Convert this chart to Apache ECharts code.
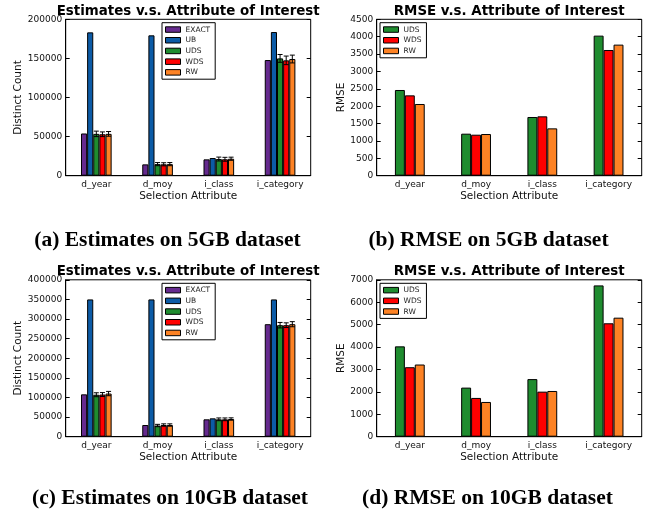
<!DOCTYPE html>
<html><head><meta charset="utf-8">
<script src="https://cdn.jsdelivr.net/npm/echarts@6/dist/echarts.min.js"></script>
<style>html,body{margin:0;padding:0;background:#fff}#c{width:650px;height:512px}</style>
</head><body><div id="c"></div>
<script>
const categories = ['d_year', 'd_moy', 'i_class', 'i_category'];

// (a) Estimates on 5GB
const est5Exact = [54000, 14500, 20900, 147900];
const est5UB    = [183300, 179500, 22600, 183700];
const est5UDS   = [53500, 14800, 21300, 150000];
const est5WDS   = [53000, 14600, 21000, 147500];
const est5RW    = [53500, 14800, 21700, 149200];
const est5UDSErr = [3500, 2000, 2500, 5000];
const est5WDSErr = [3000, 2000, 2500, 5500];
const est5RWErr  = [3000, 2000, 2000, 5000];

// (b) RMSE on 5GB
const rmse5UDS = [2466, 1209, 1689, 4030];
const rmse5WDS = [2312, 1180, 1708, 3617];
const rmse5RW  = [2063, 1199, 1362, 3771];

// (c) Estimates on 10GB
const est10Exact = [108000, 29800, 44300, 286800];
const est10UB    = [350000, 350000, 46800, 350000];
const est10UDS   = [107000, 28500, 44300, 284300];
const est10WDS   = [107500, 29800, 44300, 284300];
const est10RW    = [110000, 29800, 45100, 286800];
const est10UDSErr = [5000, 3000, 3500, 7000];
const est10WDSErr = [5000, 3000, 3500, 6000];
const est10RWErr  = [5500, 3000, 3000, 6500];

// (d) RMSE on 10GB
const rmse10UDS = [4030, 2190, 2570, 6750];
const rmse10WDS = [3100, 1730, 2010, 5060];
const rmse10RW  = [3220, 1550, 2040, 5310];

const estTicks5 = {min: 0, max: 200000, interval: 50000};
const estTicks10 = {min: 0, max: 400000, interval: 50000};
const rmseTicks5 = {min: 0, max: 4500, interval: 500};
const rmseTicks10 = {min: 0, max: 7000, interval: 1000};

const colors = {EXACT: '#652a8e', UB: '#0c5ba6', UDS: '#1f8c2f', WDS: '#ff0000', RW: '#fd8224'};
const FONT = 'DejaVu Sans';

const grids = [
  {left: 65.7, top: 19.3, width: 245, height: 156.4},
  {left: 376.7, top: 19.3, width: 265, height: 156.4},
  {left: 65.7, top: 279.8, width: 245, height: 156.9},
  {left: 376.7, top: 279.8, width: 265, height: 156.9}
];
const yNames = ['Distinct Count', 'RMSE', 'Distinct Count', 'RMSE'];
const yTicks = [estTicks5, rmseTicks5, estTicks10, rmseTicks10];
const yNameGaps = [37.5, 27.5, 37.5, 27.5];

const xAxes = [], yAxes = [], series = [];
grids.forEach((g, p) => {
  xAxes.push({
    type: 'category', gridIndex: p, data: categories, position: 'bottom',
    axisLine: {lineStyle: {color: '#000', width: 1}},
    axisTick: {inside: true, alignWithLabel: true, length: 4, lineStyle: {color: '#000'}},
    axisLabel: {color: '#111', fontFamily: FONT, fontSize: 9, margin: 4},
    name: 'Selection Attribute', nameLocation: 'middle', nameGap: 15,
    nameTextStyle: {color: '#111', fontFamily: FONT, fontSize: 10.5}
  });
  xAxes.push({
    type: 'category', gridIndex: p, data: categories, position: 'top',
    axisLine: {show: false},
    axisTick: {inside: true, alignWithLabel: true, length: 4, lineStyle: {color: '#000'}},
    axisLabel: {show: false}
  });
  yAxes.push(Object.assign({
    type: 'value', gridIndex: p, position: 'left',
    axisLine: {show: true, lineStyle: {color: '#000', width: 1}},
    axisTick: {show: true, inside: true, length: 4, lineStyle: {color: '#000'}},
    axisLabel: {color: '#111', fontFamily: FONT, fontSize: 9, margin: 3.5, formatter: v => String(v)},
    splitLine: {show: false},
    name: yNames[p], nameLocation: 'middle', nameGap: yNameGaps[p],
    nameTextStyle: {color: '#111', fontFamily: FONT, fontSize: 10.5}
  }, yTicks[p]));
  yAxes.push(Object.assign({
    type: 'value', gridIndex: p, position: 'right',
    axisLine: {show: false},
    axisTick: {show: true, inside: true, length: 4, lineStyle: {color: '#000'}},
    axisLabel: {show: false}, splitLine: {show: false}
  }, yTicks[p]));
});

function addBars(p, names, datas, frac) {
  names.forEach((n, k) => {
    series.push({
      type: 'bar', name: n, xAxisIndex: 2 * p, yAxisIndex: 2 * p,
      data: datas[k], barWidth: frac * 100 + '%', barGap: '0%',
      itemStyle: {color: colors[n], borderColor: '#000', borderWidth: 1},
      emphasis: {disabled: true}, animation: false, z: 2
    });
  });
}
function addErr(p, k, n, frac, vals, errs) {
  series.push({
    type: 'custom', name: 'err' + p + k, xAxisIndex: 2 * p, yAxisIndex: 2 * p,
    data: vals.map((v, i) => [i, v, errs[i]]),
    encode: {x: 0, y: 1}, z: 5, animation: false, silent: true,
    renderItem: (params, api) => {
      const ci = api.value(0), v = api.value(1), e = api.value(2);
      const band = api.size([1, 0])[0];
      const off = (k - (n - 1) / 2) * band * frac;
      const hi = api.coord([ci, v + e]);
      const lo = api.coord([ci, v - e]);
      const x = hi[0] + off;
      const cw = 2.5;
      const st = {stroke: '#000', lineWidth: 1};
      return {type: 'group', children: [
        {type: 'line', shape: {x1: x, y1: hi[1], x2: x, y2: lo[1]}, style: st},
        {type: 'line', shape: {x1: x - cw, y1: hi[1], x2: x + cw, y2: hi[1]}, style: st},
        {type: 'line', shape: {x1: x - cw, y1: lo[1], x2: x + cw, y2: lo[1]}, style: st}
      ]};
    }
  });
}

addBars(0, ['EXACT', 'UB', 'UDS', 'WDS', 'RW'], [est5Exact, est5UB, est5UDS, est5WDS, est5RW], 0.1);
addErr(0, 2, 5, 0.1, est5UDS, est5UDSErr);
addErr(0, 3, 5, 0.1, est5WDS, est5WDSErr);
addErr(0, 4, 5, 0.1, est5RW, est5RWErr);
addBars(1, ['UDS', 'WDS', 'RW'], [rmse5UDS, rmse5WDS, rmse5RW], 0.15);
addBars(2, ['EXACT', 'UB', 'UDS', 'WDS', 'RW'], [est10Exact, est10UB, est10UDS, est10WDS, est10RW], 0.1);
addErr(2, 2, 5, 0.1, est10UDS, est10UDSErr);
addErr(2, 3, 5, 0.1, est10WDS, est10WDSErr);
addErr(2, 4, 5, 0.1, est10RW, est10RWErr);
addBars(3, ['UDS', 'WDS', 'RW'], [rmse10UDS, rmse10WDS, rmse10RW], 0.15);

function legend(left, top, names) {
  return {
    left: left, top: top, orient: 'vertical', data: names, icon: 'rect',
    itemWidth: 15, itemHeight: 5.5, itemGap: 1,
    padding: [2, 5, 2, 3],
    borderColor: '#000', borderWidth: 1, backgroundColor: '#fff',
    itemStyle: {borderColor: '#000', borderWidth: 1},
    textStyle: {fontFamily: FONT, fontSize: 7.5, color: '#222', lineHeight: 9.7},
    selectedMode: false
  };
}

const titleFont = 'bold 13.4px "DejaVu Sans"';
const capFont = 'bold 21.5px "Liberation Serif"';
function txt(x, y, text, font) {
  return {type: 'text', x: x, y: y, z: 10,
    style: {text: text, font: font, fill: '#000', textAlign: 'center', textVerticalAlign: 'middle'}};
}

const chart = echarts.init(document.getElementById('c'), null, {renderer: 'canvas'});
chart.setOption({
  animation: false,
  backgroundColor: '#fff',
  grid: grids.map(g => Object.assign({show: true, borderColor: '#000', borderWidth: 1, containLabel: false}, g)),
  xAxis: xAxes,
  yAxis: yAxes,
  legend: [
    legend(162, 22.7, ['EXACT', 'UB', 'UDS', 'WDS', 'RW']),
    legend(380, 22.7, ['UDS', 'WDS', 'RW']),
    legend(162, 283.3, ['EXACT', 'UB', 'UDS', 'WDS', 'RW']),
    legend(380, 283.3, ['UDS', 'WDS', 'RW'])
  ],
  series: series,
  graphic: [
    txt(188.2, 11.5, 'Estimates v.s. Attribute of Interest', titleFont),
    txt(509.2, 11.5, 'RMSE v.s. Attribute of Interest', titleFont),
    txt(188.2, 271.5, 'Estimates v.s. Attribute of Interest', titleFont),
    txt(509.2, 271.5, 'RMSE v.s. Attribute of Interest', titleFont),
    txt(167.5, 240, '(a) Estimates on 5GB dataset', capFont),
    txt(488.5, 240, '(b) RMSE on 5GB dataset', capFont),
    txt(170, 498, '(c) Estimates on 10GB dataset', capFont),
    txt(487.5, 498, '(d) RMSE on 10GB dataset', capFont)
  ]
});
</script>
</body></html>
